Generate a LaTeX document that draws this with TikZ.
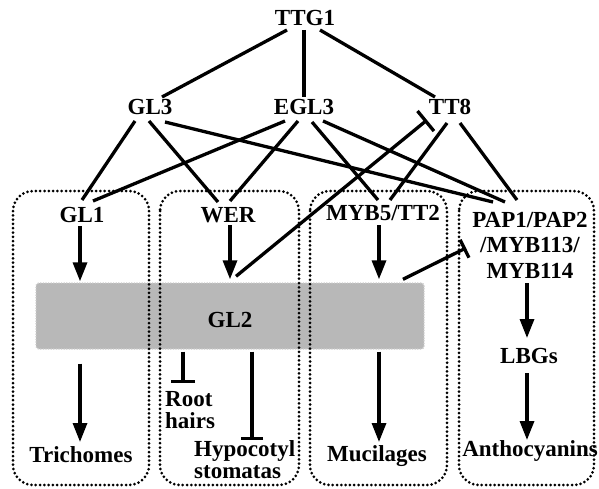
\documentclass[tikz,border=0pt]{standalone}
\usepackage{fontspec}
\setmainfont{Liberation Serif}
\usetikzlibrary{arrows.meta}
\definecolor{glgray}{RGB}{184,184,184}
\definecolor{gledge}{RGB}{205,205,205}
\begin{document}
\begin{tikzpicture}[x=1pt,y=-1pt,
  lbl/.style={font=\fontsize{23}{20}\selectfont\bfseries, inner sep=0pt, anchor=base},
  con/.style={line width=3.3pt},
  act/.style={con,-{Triangle[length=19pt,width=14pt]}},
  inh/.style={con,-{Bar[width=#1]}},
  dotbox/.style={line width=3pt, dash pattern=on 0pt off 4.3pt, line cap=round, rounded corners=20pt},
  glbox/.style={fill=glgray, draw=gledge, line width=1.4pt, dash pattern=on 1.2pt off 1.4pt, rounded corners=3pt,
    minimum width=388pt, minimum height=66pt, inner sep=0pt, text height=22pt, text depth=0pt,
    font=\fontsize{23}{20}\selectfont\bfseries},
]
\useasboundingbox (0,0) rectangle (599,489);

% GL2 band
\node[glbox] (GL2) at (230,316) {GL2};

% dotted compartments
\draw[dotbox] (13,191) rectangle (149,485);
\draw[dotbox] (160,191) rectangle (299,485);
\draw[dotbox] (310,191) rectangle (447,485);
\draw[dotbox] (459,191) rectangle (594,485);

% labels
\node[lbl] (TTG1) at (305,26) {TTG1};
\node[lbl] (GL3) at (150,115) {GL3};
\node[lbl] (EGL3) at (304,115) {EGL3};
\node[lbl] (TT8) at (450,115) {TT8};
\node[lbl] (GL1) at (82,222) {GL1};
\node[lbl] (WER) at (228,222) {WER};
\node[lbl] (MYB5) at (383,220) {MYB5/TT2};
\node[lbl, align=center, font=\fontsize{23}{25.5}\selectfont\bfseries] (PAP) at (530,278) {PAP1/PAP2\\/MYB113/\\MYB114};
\node[lbl] (LBG) at (529,363) {LBGs};
\node[lbl] (Anth) at (530,456) {Anthocyanins};
\node[lbl] (Tri) at (81,462) {Trichomes};
\node[lbl] (Muc) at (377,461) {Mucilages};
\node[lbl, anchor=base west, align=left, font=\fontsize{23}{21.5}\selectfont\bfseries] (Root) at (165,428) {Root\\hairs};
\node[lbl, anchor=base west, align=left, font=\fontsize{23}{21.5}\selectfont\bfseries] (Hypo) at (194,478) {Hypocotyl\\stomatas};

% TTG1 to bHLH
\draw[con] ([shift={(-18,4)}]TTG1.base) -- ([shift={(12,-18)}]GL3.base);
\draw[con] ([shift={(-1,4)}]TTG1.base) -- ([shift={(0,-18)}]EGL3.base);
\draw[con] ([shift={(15,4)}]TTG1.base) -- ([shift={(-15,-18)}]TT8.base);

% bHLH to MYB
\draw[con] ([shift={(-15,6)}]GL3.base) -- ([shift={(0,-22)}]GL1.base);
\draw[con] ([shift={(-1,6)}]GL3.base) -- ([shift={(-10,-20)}]WER.base);
\draw[con] ([shift={(15,7)}]GL3.base) -- ([shift={(-37,-76)}]PAP.base);
\draw[con] ([shift={(-19,6)}]EGL3.base) -- ([shift={(11,-21)}]GL1.base);
\draw[con] ([shift={(-6,6)}]EGL3.base) -- ([shift={(2,-21)}]WER.base);
\draw[con] ([shift={(8,7)}]EGL3.base) -- ([shift={(-5,-20)}]MYB5.base);
\draw[con] ([shift={(19,6)}]EGL3.base) -- ([shift={(-25,-76)}]PAP.base);
\draw[con] ([shift={(-3,8)}]TT8.base) -- ([shift={(7,-20)}]MYB5.base);
\draw[con] ([shift={(10,8)}]TT8.base) -- ([shift={(-13,-78)}]PAP.base);

% inhibitions from GL2
\draw[inh=26pt] ([shift={(6,-6)}]GL2.north) -- ([shift={(-23,5)}]TT8.base);
\draw[inh=20pt] ([shift={(173,-3)}]GL2.north) -- ([shift={(-64,-30)}]PAP.base);
\draw[inh=24pt] ([shift={(-47,2)}]GL2.south) -- ([shift={(18,-45)}]Root.base west);
\draw[inh=22pt] ([shift={(22,2)}]GL2.south) -- ([shift={(58,-38)}]Hypo.base west);

% activations
\draw[act] ([shift={(-2,4)}]GL1.base) -- ([shift={(-150,-1)}]GL2.north);
\draw[act] ([shift={(2,3)}]WER.base) -- ([shift={(0,-3)}]GL2.north);
\draw[act] ([shift={(-4,5)}]MYB5.base) -- ([shift={(149,-3)}]GL2.north);
\draw[act] ([shift={(-150,14)}]GL2.south) -- ([shift={(-1,-20)}]Tri.base);
\draw[act] ([shift={(149,2)}]GL2.south) -- ([shift={(2,-19)}]Muc.base);
\draw[act] ([shift={(-3,5)}]PAP.base) -- ([shift={(-2,-25)}]LBG.base);
\draw[act] ([shift={(-2,10)}]LBG.base) -- ([shift={(-3,-16)}]Anth.base);
\end{tikzpicture}
\end{document}
